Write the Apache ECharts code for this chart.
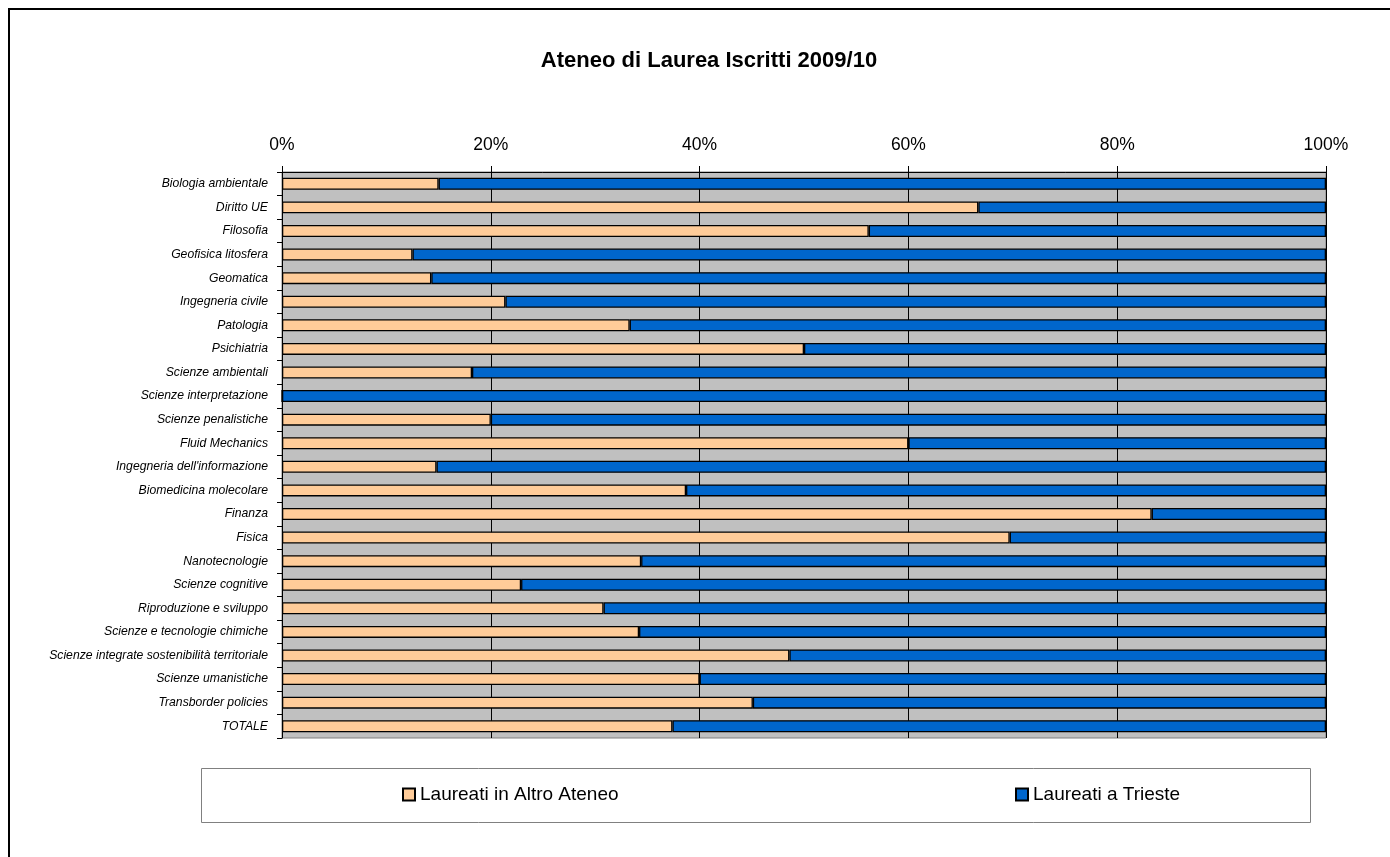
<!DOCTYPE html>
<html>
<head>
<meta charset="utf-8">
<script src="https://cdn.jsdelivr.net/npm/echarts@6/dist/echarts.min.js"></script>
<style>
html,body{margin:0;padding:0;background:#fff;}
#main{width:1390px;height:857px;}
</style>
</head>
<body>
<div id="main"></div>
<script>
var categories = [
  "Biologia ambientale","Diritto UE","Filosofia","Geofisica litosfera","Geomatica",
  "Ingegneria civile","Patologia","Psichiatria","Scienze ambientali","Scienze interpretazione",
  "Scienze penalistiche","Fluid Mechanics","Ingegneria dell'informazione","Biomedicina molecolare",
  "Finanza","Fisica","Nanotecnologie","Scienze cognitive","Riproduzione e sviluppo",
  "Scienze e tecnologie chimiche","Scienze integrate sostenibilità territoriale",
  "Scienze umanistiche","Transborder policies","TOTALE"
];
var altroAteneo = [15.0,66.7,56.2,12.5,14.3,21.4,33.3,50.0,18.2,0,20.0,60.0,14.8,38.7,83.3,69.7,34.4,22.9,30.8,34.2,48.6,40.0,45.1,37.4];
var trieste     = [85.0,33.3,43.8,87.5,85.7,78.6,66.7,50.0,81.8,100,80.0,40.0,85.2,61.3,16.7,30.3,65.6,77.1,69.2,65.8,51.4,60.0,54.9,62.6];
var tickValues = [0,20,40,60,80,100];
var seriesNames = ["Laureati in Altro Ateneo","Laureati a Trieste"];

var chart = echarts.init(document.getElementById('main'), null, {renderer:'canvas'});
var FONT = "'Liberation Sans', Arial, sans-serif";
chart.setOption({
  animation:false,
  backgroundColor:'#ffffff',
  textStyle:{fontFamily:FONT},
  title:{
    text:'Ateneo di Laurea Iscritti 2009/10',
    left:704, top:45, textAlign:'center',
    textStyle:{fontFamily:FONT,fontSize:22,fontWeight:'bold',color:'#000'}
  },
  graphic:[
    {type:'rect',shape:{x:9,y:9,width:1420,height:900},style:{fill:null,stroke:'#000',lineWidth:2},silent:true,z:-1},
    {type:'rect',shape:{x:201.5,y:768.5,width:1109,height:54},style:{fill:'#fff',stroke:'#808080',lineWidth:1},silent:true,z:-1}
  ],
  legend:[
    {data:[seriesNames[0]],left:402,top:785,itemWidth:12,itemHeight:12,itemGap:5,icon:'rect',
     textStyle:{fontFamily:FONT,fontSize:19,color:'#000'},padding:0},
    {data:[seriesNames[1]],left:1015,top:785,itemWidth:12,itemHeight:12,itemGap:5,icon:'rect',
     textStyle:{fontFamily:FONT,fontSize:19,color:'#000'},padding:0}
  ],
  grid:{left:282,top:172,width:1044,height:566,show:true,backgroundColor:'#c0c0c0',borderColor:'#808080',borderWidth:1},
  xAxis:{
    type:'value',position:'top',min:0,max:100,interval:20,
    axisLine:{show:true,lineStyle:{color:'#000',width:1}},
    axisTick:{show:true,length:6,lineStyle:{color:'#000'}},
    axisLabel:{formatter:function(v){return tickValues.indexOf(v)>=0 ? v+'%' : '';},fontFamily:FONT,fontSize:17.5,color:'#000',margin:18},
    splitLine:{show:true,lineStyle:{color:'#000',width:1}}
  },
  yAxis:{
    type:'category',data:categories,inverse:true,
    axisLine:{show:true,lineStyle:{color:'#000',width:1}},
    axisTick:{show:true,length:5,lineStyle:{color:'#000'}},
    axisLabel:{fontFamily:FONT,fontSize:12.2,fontStyle:'italic',color:'#000',margin:14}
  },
  series:[
    {name:seriesNames[0],type:'bar',stack:'t',data:altroAteneo,barWidth:12,
     itemStyle:{color:'#ffcc99',borderColor:'#000',borderWidth:1.3}},
    {name:seriesNames[1],type:'bar',stack:'t',data:trieste,barWidth:12,
     itemStyle:{color:'#0066cc',borderColor:'#000',borderWidth:1.3}}
  ]
});
</script>
</body>
</html>
